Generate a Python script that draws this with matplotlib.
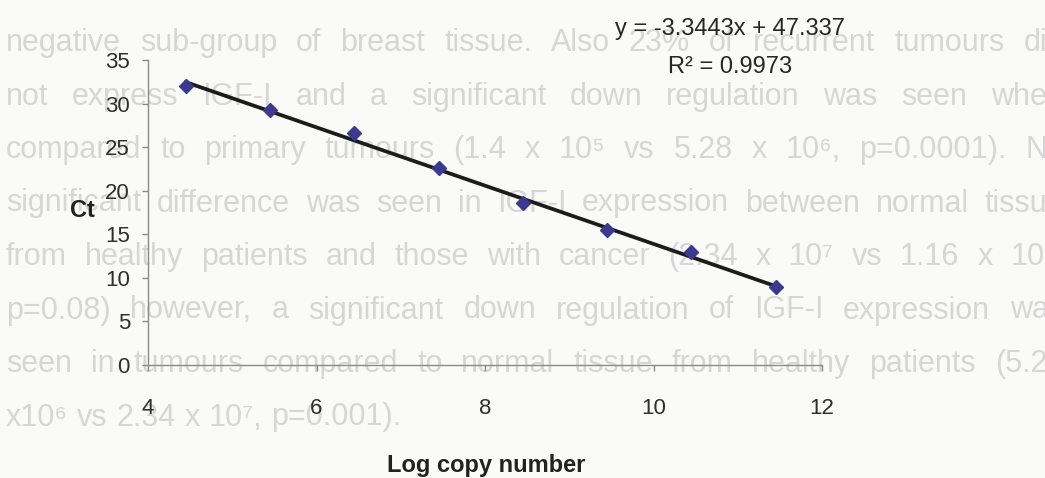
# Standard curve: Ct against log copy number, on a scanned thesis page.

import matplotlib.pyplot as plt
import numpy as np

log_copy = [4.45, 5.45, 6.45, 7.45, 8.45, 9.45, 10.45, 11.45]
ct = [32.0, 29.3, 26.6, 22.6, 18.6, 15.5, 13.0, 9.0]
slope = -3.3443
intercept = 47.337
r2 = 0.9973
x_ticks = [4, 6, 8, 10, 12]
y_ticks = [0, 5, 10, 15, 20, 25, 30, 35]

# faded body text of the page behind the chart
page_lines = [
    "negative sub-group of breast tissue. Also 23% of recurrent tumours did",
    "not express IGF-I and a significant down regulation was seen when",
    "compared to primary tumours (1.4 x 10\u2075 vs 5.28 x 10\u2076, p=0.0001). No",
    "significant difference was seen in IGF-I expression between normal tissue",
    "from healthy patients and those with cancer (2.34 x 10\u2077 vs 1.16 x 10\u2077,",
    "p=0.08) however, a significant down regulation of IGF-I expression was",
    "seen in tumours compared to normal tissue from healthy patients (5.28",
    "x10\u2076 vs 2.34 x 10\u2077, p=0.001).",
]

plt.rcParams['font.family'] = ['Liberation Sans', 'DejaVu Sans']

W, H = 1045, 478
fig = plt.figure(figsize=(W/100, H/100), dpi=100)
fig.patch.set_facecolor('#fafaf8')
renderer = fig.canvas.get_renderer()

# justified lines of the page text
left, right = 6, 1064
for k, line in enumerate(page_lines):
    ypix = 43 + k*53.5
    words = line.split(' ')
    arts = [fig.text(0, 1 - ypix/H, w, fontsize=22, color='#d6d6d6',
                     va='center', ha='left', zorder=-5) for w in words]
    widths = [a.get_window_extent(renderer).width for a in arts]
    if k < len(page_lines) - 1:
        gap = max(8, (right - left - sum(widths)) / (len(words) - 1))
    else:
        gap = 9
    x = left
    for a, w in zip(arts, widths):
        a.set_x(x / W)
        x += w + gap

ax = fig.add_axes([148/W, 1 - 365/H, (822-148)/W, (365-60)/H])
ax.patch.set_visible(False)

xs = np.array([min(log_copy), max(log_copy)])
ax.plot(xs, slope*xs + intercept, color='#1c1c1c', lw=2.7, zorder=2)
ax.plot(log_copy, ct, ls='none', marker='D', ms=7.6,
        color='#3c3a8e', mec='#3c3a8e', zorder=3)

ax.set_xlim(4, 12)
ax.set_ylim(0, 35)
ax.set_xticks(x_ticks)
ax.set_yticks(y_ticks)
for s in ['top', 'right']:
    ax.spines[s].set_visible(False)
for s in ['left', 'bottom']:
    ax.spines[s].set_color('#8a8a8a')
    ax.spines[s].set_linewidth(1.0)
ax.tick_params(axis='y', length=4, width=1, color='#8a8a8a', pad=9,
               labelsize=16, labelcolor='#2e2e2e')
ax.tick_params(axis='x', length=4, width=1, color='#8a8a8a', pad=20,
               labelsize=16, labelcolor='#2e2e2e')

ax.set_ylabel('Ct', rotation=0, fontsize=17, fontweight='bold',
              color='#222222', ha='center', va='center')
ax.yaxis.set_label_coords(-0.098, 0.505)
ax.set_xlabel('Log copy number', fontsize=17, fontweight='bold',
              color='#222222', ha='center', va='center')
ax.xaxis.set_label_coords(0.502, -0.328)

fig.text(730/W, 1 - 29/H, 'y = %.4fx + %.3f' % (slope, intercept),
         fontsize=17, color='#262626', ha='center', va='center')
fig.text(730/W, 1 - 67/H, 'R\u00b2 = %.4f' % r2,
         fontsize=17, color='#262626', ha='center', va='center')

fig.savefig('out.png', dpi=100, facecolor=fig.get_facecolor())
